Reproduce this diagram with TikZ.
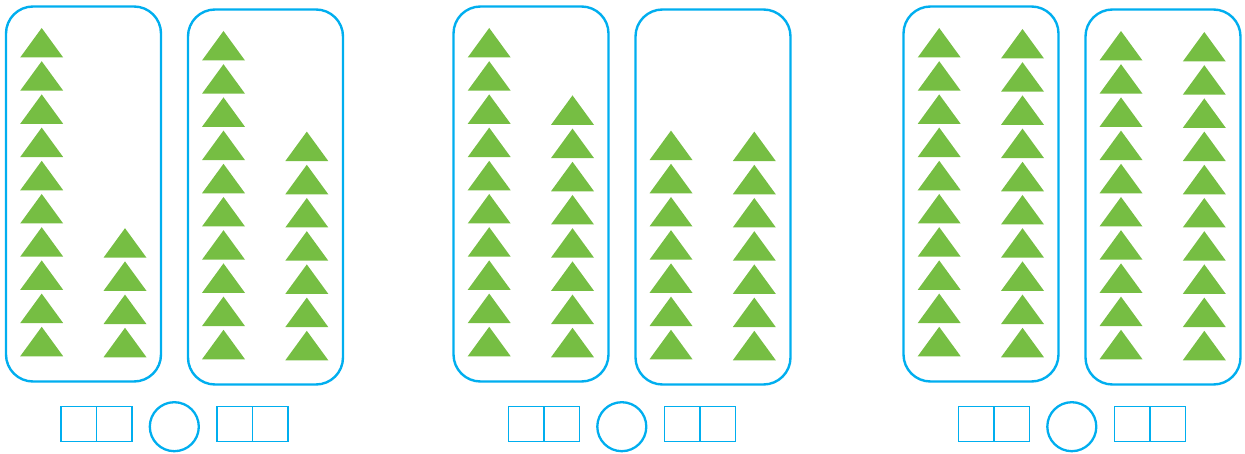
\documentclass[tikz,border=0pt]{standalone}
\usepackage{tikz}
\definecolor{tgreen}{HTML}{76BE43}
\definecolor{lblue}{HTML}{00AEEF}
\tikzset{
  framebox/.style={draw=lblue, line width=2.4pt, rounded corners=27pt},
  ansbox/.style={draw=lblue, line width=1.8pt},
  anscirc/.style={draw=lblue, line width=2.3pt},
  tri/.style={fill=tgreen},
}
\newcommand{\mytri}[2]{\fill[tri] (#1,#2) -- (#1-21.5,#2+29.5) -- (#1+21.5,#2+29.5) -- cycle;}
% column: cx, apex0, count
\newcommand{\mycol}[3]{%
  \pgfmathtruncatemacro{\kstart}{10-#3}%
  \foreach \k in {\kstart,...,9}{\pgfmathsetmacro{\ay}{#2+33.2*\k}\mytri{#1}{\ay}}}
\begin{document}
\begin{tikzpicture}[x=1pt,y=-1pt]
\useasboundingbox (0,0) rectangle (1245,454);
\foreach \X/\a/\b/\c/\d [count=\g] in {0/10/4/10/7, 447.5/10/8/7/7, 897.5/10/10/10/10}{
  \draw[framebox] (\X+6,6.5) rectangle (\X+161,381.5);
  \draw[framebox] (\X+188,9.5) rectangle (\X+343,384.5);
  \mycol{\X+41.7}{28}{\a}
  \mycol{\X+125}{29}{\b}
  \mycol{\X+223.5}{31}{\c}
  \mycol{\X+306.8}{32}{\d}
  \draw[ansbox] (\X+61,406.5) rectangle (\X+132,441.5);
  \draw[ansbox] (\X+96.5,406.5) -- (\X+96.5,441.5);
  \draw[anscirc] (\X+174.3,426.7) circle (24.5);
  \draw[ansbox] (\X+217,406.5) rectangle (\X+288,441.5);
  \draw[ansbox] (\X+252.5,406.5) -- (\X+252.5,441.5);
}
\end{tikzpicture}
\end{document}
